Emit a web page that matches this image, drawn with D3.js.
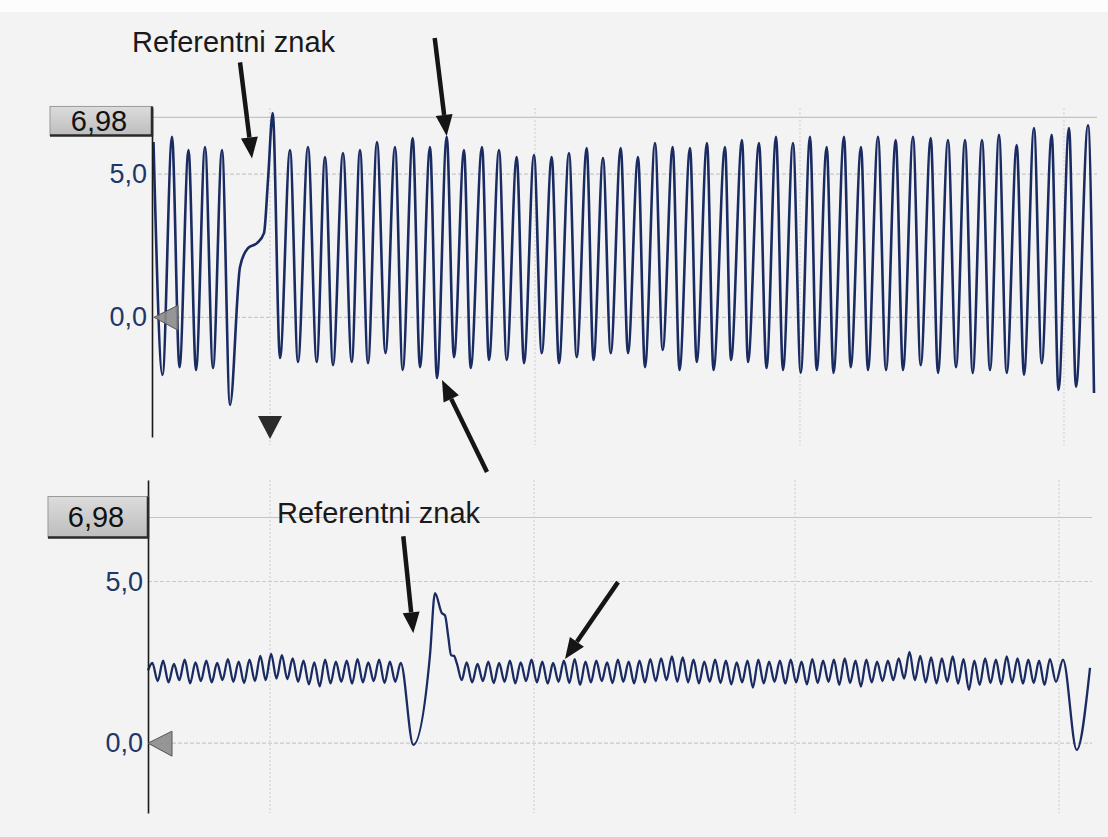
<!DOCTYPE html>
<html>
<head>
<meta charset="utf-8">
<script src="https://cdn.jsdelivr.net/npm/d3@7"></script>
<style>
  html, body { margin: 0; padding: 0; background: #f3f3f3; }
  svg { display: block; font-family: "Liberation Sans", Arial, sans-serif; }
</style>
</head>
<body>
<svg id="chart" width="1108" height="837"></svg>
<script>
// ---- signal data: [time, volts] turning points of each trace ----
// crank sensor (upper trace)
const topTrace = [
  [0.15,6.12],[1.05,-2.01],[2.00,6.30],[2.75,-1.74],[3.65,5.84],[4.40,-1.84],[5.30,5.95],[6.10,-1.77],[7.00,5.84],
  [7.80,-3.06],[8.80,1.76],[9.60,2.42],[10.50,2.59],[11.20,2.94],[11.60,4.79],[12.07,7.13],
  [12.80,-1.42],[13.80,5.84],[14.60,-1.56],[15.60,5.95],[16.47,-1.56],[17.30,5.60],[18.10,-1.67],[19.10,5.74],
  [19.97,-1.56],[20.80,5.84],[21.60,-1.60],[22.50,6.12],[23.35,-1.25],[24.30,5.95],[25.07,-1.84],[26.07,6.26],
  [26.80,-1.74],[27.80,5.95],[28.50,-2.12],[29.47,6.30],[30.20,-1.39],[31.20,5.84],[31.87,-1.77],[33.00,5.95],
  [33.70,-1.49],[34.70,5.84],[35.47,-1.49],[36.47,5.60],[37.20,-1.60],[38.20,5.67],[38.97,-1.25],[39.97,5.60],
  [40.70,-1.60],[41.70,5.74],[42.47,-1.39],[43.47,5.91],[44.15,-1.49],[45.10,5.56],[45.87,-1.25],[46.87,5.91],
  [47.60,-1.25],[48.60,5.60],[49.30,-1.74],[50.30,6.09],[51.07,-1.14],[52.07,5.95],[52.75,-1.84],[53.80,5.91],
  [54.47,-1.56],[55.50,6.09],[56.15,-1.84],[57.30,5.95],[57.90,-1.49],[59.00,6.19],[59.60,-1.56],[60.70,6.09],
  [61.45,-1.77],[62.40,6.30],[63.10,-1.84],[64.10,6.09],[64.87,-1.94],[65.80,6.30],[66.47,-1.84],[67.47,5.95],
  [68.15,-1.94],[69.20,6.30],[69.87,-1.74],[70.90,5.95],[71.60,-1.84],[72.60,6.30],[73.40,-1.84],[74.37,6.19],
  [75.10,-1.84],[76.10,6.30],[76.87,-1.67],[77.87,6.26],[78.60,-1.94],[79.60,6.19],[80.40,-1.74],[81.30,6.19],
  [82.07,-1.94],[83.00,6.19],[83.80,-1.84],[84.70,6.37],[85.47,-1.94],[86.47,6.02],[87.20,-2.01],[88.20,6.61],
  [88.97,-1.60],[89.97,6.37],[90.65,-2.54],[91.70,6.61],[92.40,-2.43],[93.60,6.71],[94.20,-2.64]
];

// lower trace, split into its sections
const bottomLead = [
  [0.00,2.25],[0.43,2.48],[0.97,1.92],[1.51,2.55],[2.05,1.88],[2.59,2.45],[3.13,1.95],[3.67,2.58],[4.21,1.85],
  [4.75,2.50],[5.29,1.92],[5.83,2.55],[6.37,1.88],[6.91,2.48],[7.45,1.95],[7.99,2.60],[8.53,1.90],[9.07,2.52],
  [9.61,1.86],[10.15,2.58],[10.69,1.92],[11.23,2.70],[11.77,1.95],[12.31,2.76],[12.85,2.00],[13.39,2.72],
  [13.93,1.98],[14.47,2.62],[15.01,1.90],[15.55,2.55],[16.09,1.82],[16.63,2.50],[17.17,1.76],[17.71,2.58],
  [18.25,1.85],[18.79,2.52],[19.33,1.90],[19.87,2.55],[20.41,1.84],[20.95,2.60],[21.49,1.88],[22.03,2.50],
  [22.57,1.92],[23.11,2.58],[23.65,1.86],[24.19,2.52],[24.73,1.90],[25.27,2.48]
];
const bottomMark = [
  [26.53,-0.05],[28.20,2.73],[28.70,4.64],[29.37,4.03],[29.70,3.95],[30.03,3.29],[30.30,2.72],[30.60,2.70],
  [30.90,2.45],[31.37,1.95]
];
const bottomMain = [
  [31.87,2.50],[32.41,1.88],[32.95,2.45],[33.49,1.92],[34.03,2.52],[34.57,1.86],[35.11,2.48],[35.65,1.90],
  [36.19,2.55],[36.73,1.85],[37.27,2.50],[37.81,1.92],[38.35,2.58],[38.89,1.88],[39.43,2.52],[39.97,1.84],
  [40.51,2.48],[41.05,1.90],[41.59,2.55],[42.13,1.86],[42.67,2.60],[43.21,1.80],[43.75,2.52],[44.29,1.88],
  [44.83,2.55],[45.37,1.92],[45.91,2.50],[46.45,1.86],[46.99,2.58],[47.53,1.90],[48.07,2.52],[48.61,1.85],
  [49.15,2.55],[49.69,1.88],[50.23,2.60],[50.77,1.92],[51.31,2.62],[51.85,1.95],[52.39,2.68],[52.93,1.90],
  [53.47,2.65],[54.01,1.88],[54.55,2.58],[55.09,1.85],[55.63,2.52],[56.17,1.90],[56.71,2.58],[57.25,1.86],
  [57.79,2.55],[58.33,1.82],[58.87,2.50],[59.41,1.88],[59.95,2.55],[60.49,1.72],[61.03,2.58],[61.57,1.85],
  [62.11,2.52],[62.65,1.90],[63.19,2.55],[63.73,1.84],[64.27,2.58],[64.81,1.88],[65.35,2.52],[65.89,1.82],
  [66.43,2.60],[66.97,1.86],[67.51,2.55],[68.05,1.90],[68.59,2.58],[69.13,1.80],[69.67,2.62],[70.21,1.86],
  [70.75,2.55],[71.29,1.75],[71.83,2.58],[72.37,1.88],[72.91,2.52],[73.45,1.92],[73.99,2.55],[74.53,1.95],
  [75.07,2.62],[75.61,2.00],[76.15,2.82],[76.69,1.95],[77.23,2.70],[77.77,1.88],[78.31,2.65],[78.85,1.85],
  [79.39,2.62],[79.93,1.90],[80.47,2.68],[81.01,1.84],[81.55,2.60],[82.09,1.65],[82.63,2.55],[83.17,1.80],
  [83.71,2.62],[84.25,1.86],[84.79,2.58],[85.33,1.82],[85.87,2.68],[86.41,1.88],[86.95,2.62],[87.49,1.84],
  [88.03,2.58],[88.57,1.86],[89.11,2.55],[89.65,1.80],[90.19,2.60],[90.80,1.90],[91.50,2.58]
];
const bottomTail = [[92.87,-0.21],[94.20,2.33]];

// axis settings
const yTicks = [0, 5];
const rangeMax = 6.98;
const topGridTimes = [11.8, 38.3, 64.8, 91.2];
const bottomGridTimes = [12.2, 38.6, 64.7, 91.1];
const triggerTime = 11.8;
const markLabel = "Referentni znak";

// ---- drawing ----
const svg = d3.select("#chart");
const comma = d3.formatLocale({decimal: ",", thousands: ".", grouping: [3], currency: ["", ""]});
const fmtTick = comma.format(".1f");
const fmtMax = comma.format(".2f");
const TRACE = "#1a2b62";

svg.append("rect").attr("width", 1108).attr("height", 837).attr("fill", "#f3f3f3");
svg.append("rect").attr("width", 1108).attr("height", 12).attr("fill", "#fdfdfd");

const defs = svg.append("defs");
const grad = defs.append("linearGradient").attr("id", "boxFill").attr("x1", 0).attr("y1", 0).attr("x2", 0).attr("y2", 1);
grad.append("stop").attr("offset", "0%").attr("stop-color", "#dcdcdc");
grad.append("stop").attr("offset", "100%").attr("stop-color", "#bdbdbd");

function panel(cfg) {
  const g = svg.append("g");
  const x = cfg.x, y = cfg.y;
  const [x0, x1] = x.range();
  const [yb, yt] = y.range();

  // horizontal grid
  g.selectAll(".hg").data([rangeMax, ...yTicks]).join("line")
    .attr("x1", x0).attr("x2", x1)
    .attr("y1", d => y(d)).attr("y2", d => y(d))
    .attr("stroke", d => d === rangeMax ? "#c4c4c4" : "#c9c9c9")
    .attr("stroke-width", 1.2)
    .attr("stroke-dasharray", d => d === rangeMax ? null : "4,2");

  // vertical grid
  g.selectAll(".vg").data(cfg.grid).join("line")
    .attr("x1", d => x(d)).attr("x2", d => x(d))
    .attr("y1", yt).attr("y2", yb + cfg.gridExtra)
    .attr("stroke", "#cfcfcf").attr("stroke-width", 1.1)
    .attr("stroke-dasharray", "2,2");

  // trace
  const line = d3.line().x(d => x(d[0])).y(d => y(d[1])).curve(d3.curveMonotoneX);
  g.append("path").datum(cfg.data).attr("d", line)
    .attr("fill", "none").attr("stroke", TRACE)
    .attr("stroke-width", cfg.width).attr("stroke-linejoin", "round");

  // y axis
  const ax = g.append("g").attr("transform", `translate(${x0},0)`)
    .call(d3.axisLeft(y).tickValues(yTicks).tickFormat(fmtTick).tickSize(0).tickPadding(cfg.pad).tickSizeOuter(0));
  ax.select(".domain").attr("stroke", "#1a1a1a").attr("stroke-width", 1.6);
  ax.selectAll("text").attr("font-size", 27).attr("fill", "#1f3768")
    .attr("font-family", "'Liberation Sans', Arial, sans-serif");

  // zero marker
  const zx = x0 + cfg.zeroShift, zy = y(0);
  g.append("path")
    .attr("d", `M${zx},${zy} L${zx + 24},${zy - 12} L${zx + 24},${zy + 13} Z`)
    .attr("fill", "#8c8c8c").attr("fill-opacity", 0.9)
    .attr("stroke", "#555").attr("stroke-width", 1);

  // full-scale value box
  const bx = cfg.box;
  const by = y(rangeMax) + bx.dy;
  g.append("rect").attr("x", bx.x).attr("y", by).attr("width", x0 - bx.x).attr("height", bx.h)
    .attr("fill", "url(#boxFill)").attr("stroke", "#9a9a9a").attr("stroke-width", 1);
  g.append("path")
    .attr("d", `M${bx.x},${by + bx.h} H${x0} V${by}`)
    .attr("fill", "none").attr("stroke", "#2a2a2a").attr("stroke-width", 2.5);
  g.append("text").attr("x", (bx.x + x0) / 2 - 2).attr("y", by + bx.h / 2)
    .attr("dy", "0.36em").attr("text-anchor", "middle")
    .attr("font-size", 29).attr("fill", "#111").text(fmtMax(rangeMax));
  return g;
}

const xTop = d3.scaleLinear().domain([0, 94.5]).range([152, 1097]);
const yTop = d3.scaleLinear().domain([-4.18, 7.31]).range([437, 108]);
const xBot = d3.scaleLinear().domain([0, 94.4]).range([148, 1092]);
const yBot = d3.scaleLinear().domain([-2.16, 8.14]).range([813, 480]);

panel({x: xTop, y: yTop, data: topTrace, grid: topGridTimes, gridExtra: 8, width: 2.6,
       pad: 5, zeroShift: 2, box: {x: 50, dy: -11, h: 29}});
panel({x: xBot, y: yBot, data: [...bottomLead, ...bottomMark, ...bottomMain, ...bottomTail],
       grid: bottomGridTimes, gridExtra: 0, width: 2.3, pad: 5, zeroShift: 0, box: {x: 48, dy: -21, h: 41}});

// trigger marker under the upper trace
const tX = xTop(triggerTime);
svg.append("path")
  .attr("d", `M${tX - 12},416 L${tX + 12},416 L${tX},439 Z`)
  .attr("fill", "#2b2b2b");

// annotations
function arrow(tip, dx, dy) {
  const [tx, ty] = tip;
  const sx = tx + dx, sy = ty + dy;
  const len = Math.hypot(dx, dy);
  const ux = -dx / len, uy = -dy / len;       // direction tail -> tip
  const hl = 21, hw = 8.5;
  const bx = tx - ux * hl, by = ty - uy * hl;
  svg.append("line").attr("x1", sx).attr("y1", sy).attr("x2", bx).attr("y2", by)
    .attr("stroke", "#151515").attr("stroke-width", 4.5);
  svg.append("path")
    .attr("d", `M${tx},${ty} L${bx - uy * hw},${by + ux * hw} L${bx + uy * hw},${by - ux * hw} Z`)
    .attr("fill", "#151515");
}

svg.append("text").attr("x", 132).attr("y", 52).attr("font-size", 29).attr("fill", "#1a1a1a").text(markLabel);
svg.append("text").attr("x", 277).attr("y", 523).attr("font-size", 29).attr("fill", "#1a1a1a").text(markLabel);

arrow([xTop(10.0), yTop(5.55)], -12, -96);
arrow([xTop(29.47), yTop(6.30) - 1], -12, -98);
arrow([xTop(29.0), yTop(-2.19)], 45, 92);
arrow([xBot(26.53), yBot(3.4)], -10, -97);
arrow([xBot(41.7), yBot(2.6)], 53, -77);
</script>
</body>
</html>
